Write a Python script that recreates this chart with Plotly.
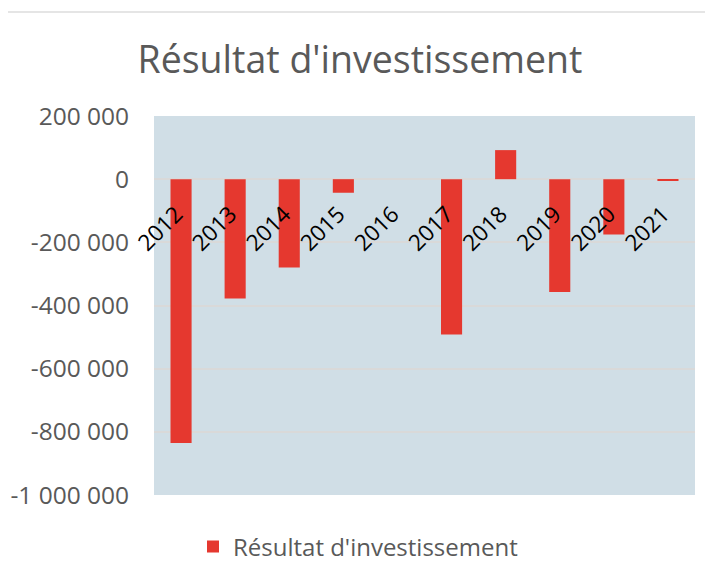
import plotly.graph_objects as go

# Données
annees = ["2012", "2013", "2014", "2015", "2016", "2017", "2018", "2019", "2020", "2021"]
resultat = [-835000, -378000, -280000, -43000, 0, -492000, 92000, -357000, -175000, -5000]
y_ticks = [200000, 0, -200000, -400000, -600000, -800000, -1000000]

Y_MIN, Y_MAX = -1000000, 200000
W, H = 705, 571  # la page ajoute 8 px de marge


def fmt(v):
    return f"{v:,}".replace(",", " ")


fig = go.Figure()

fig.add_trace(
    go.Bar(
        x=annees,
        y=resultat,
        name="Résultat d'investissement",
        marker=dict(color="#e5382f", line=dict(width=0)),
    )
)

fig.update_layout(
    width=W,
    height=H,
    margin=dict(l=146, r=18, t=108, b=84, autoexpand=False),
    paper_bgcolor="white",
    plot_bgcolor="#d0dee6",
    bargap=0.61,
    font=dict(family="Open Sans", color="#595959"),
    title=dict(
        text="Résultat d'investissement",
        font=dict(size=37.5, color="#595959"),
        x=352 / W,
        xref="container",
        xanchor="center",
        y=1 - 52 / H,
        yref="container",
        yanchor="middle",
    ),
    showlegend=True,
    legend=dict(
        orientation="h",
        xref="container",
        x=350 / W,
        xanchor="center",
        yref="container",
        y=1 - 539 / H,
        yanchor="middle",
        font=dict(size=24, color="#595959"),
    ),
    shapes=[
        dict(
            type="line",
            xref="paper",
            yref="paper",
            x0=-146 / 541,
            x1=(W - 146) / 541,
            y0=(487 - 4) / 379,
            y1=(487 - 4) / 379,
            line=dict(color="#dcdcdc", width=1.5),
        )
    ],
)

fig.update_xaxes(
    type="category",
    anchor="free",
    position=(0 - Y_MIN) / (Y_MAX - Y_MIN),
    automargin=False,
    tickangle=-45,
    tickfont=dict(size=22.5, color="black"),
    ticks="outside",
    ticklen=12,
    tickcolor="rgba(0,0,0,0)",
    ticklabelshift=-5,
    showgrid=False,
    showline=False,
    zeroline=False,
)

fig.update_yaxes(
    range=[Y_MIN, Y_MAX],
    automargin=False,
    tickvals=y_ticks,
    ticktext=[fmt(v) for v in y_ticks],
    tickfont=dict(size=24.5, color="#595959"),
    ticks="outside",
    ticklen=19,
    tickcolor="rgba(0,0,0,0)",
    showgrid=True,
    gridcolor="#d9d9d9",
    gridwidth=1.5,
    zeroline=False,
    showline=False,
)

fig.write_html("out.html")
